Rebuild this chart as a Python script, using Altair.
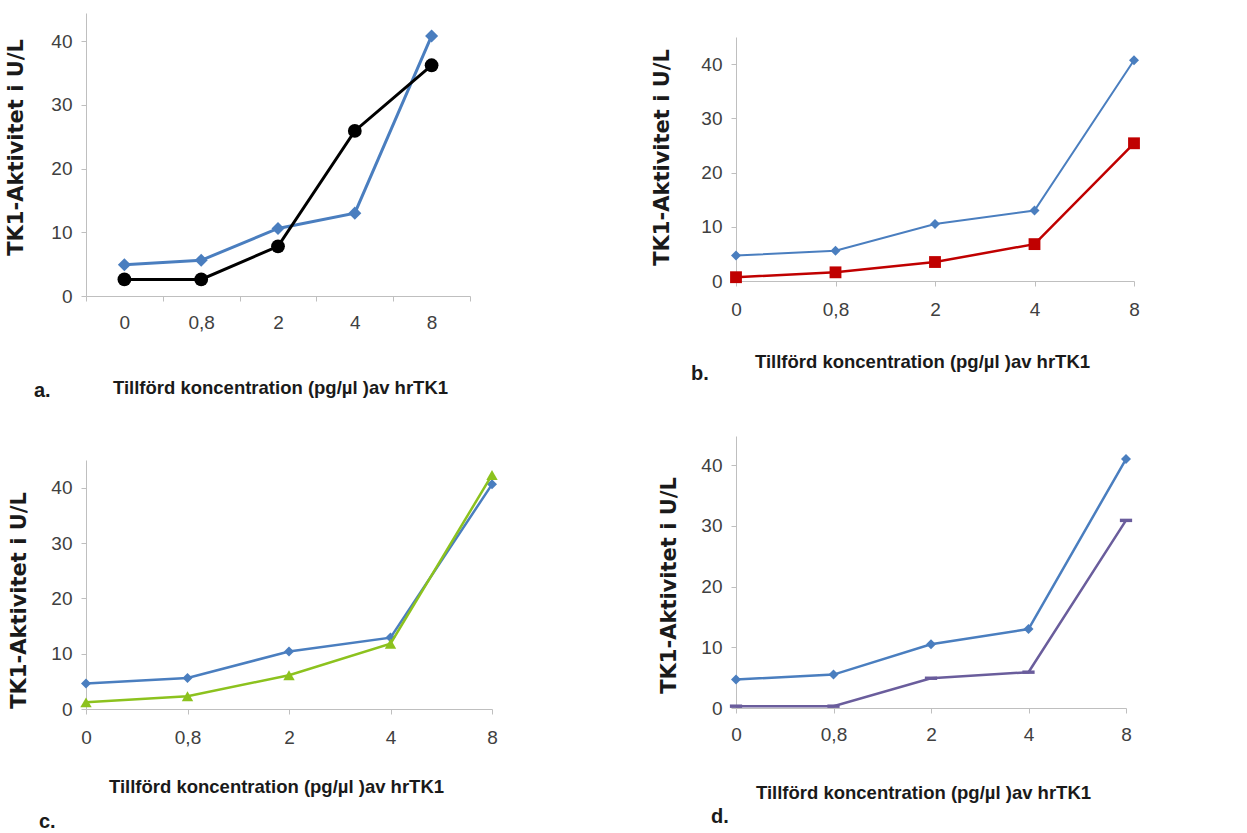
import altair as alt
import pandas as pd

# ---- data ----
conc = ["0", "0,8", "2", "4", "8"]

ref_a = [4.9, 5.6, 10.6, 13.0, 40.8]
black_a = [2.6, 2.6, 7.8, 25.9, 36.2]

ref_b = [4.7, 5.6, 10.5, 13.0, 40.7]
red_b = [0.7, 1.6, 3.5, 6.8, 25.4]

ref_c = [4.6, 5.6, 10.4, 12.9, 40.6]
green_c = [1.2, 2.3, 6.1, 11.8, 42.3]

ref_d = [4.7, 5.5, 10.5, 13.0, 41.0]
purple_d = [0.3, 0.3, 4.9, 5.9, 30.9]

y_ticks = [0, 10, 20, 30, 40]
x_title = "Tillförd koncentration (pg/µl )av hrTK1"
y_title = "TK1-Aktivitet i U/L"

BLUE = "#4a7ebf"
SANS = "'Liberation Sans', Arial, sans-serif"
AXIS_GRAY = "#bfbfbf"
LABEL_COLOR = "#404040"
DASH = "M-1,-0.28L1,-0.28L1,0.28L-1,0.28Z"


def panel(ref, other, ocolor, oshape, osize, owidth, rsize, rwidth,
          w, h, ymax, band, lpad_x, xtx, xty, ytx, yty, label, lx, ly):
    df = pd.DataFrame({
        "conc": conc + conc,
        "v": ref + other,
        "s": ["ref"] * len(ref) + ["other"] * len(other),
    })
    xaxis_kw = dict(
        title=x_title, labelAngle=0, labelFont=SANS, labelFontSize=19,
        labelColor=LABEL_COLOR, labelPadding=lpad_x, domainColor=AXIS_GRAY,
        tickColor=AXIS_GRAY, tickSize=5, grid=False,
        titleFont=SANS, titleFontSize=18.5, titleFontWeight="bold",
        titleColor="#1a1a1a", titleX=xtx, titleY=xty, titleAlign="center",
        titleBaseline="alphabetic",
    )
    if band:
        xenc = alt.X("conc:O", sort=conc,
                     scale=alt.Scale(type="band", paddingInner=0, paddingOuter=0),
                     bandPosition=0.5,
                     axis=alt.Axis(tickBand="extent", **xaxis_kw))
    else:
        xenc = alt.X("conc:O", sort=conc,
                     scale=alt.Scale(type="point", padding=0),
                     axis=alt.Axis(**xaxis_kw))

    yenc = alt.Y(
        "v:Q",
        scale=alt.Scale(domain=[0, ymax], nice=False, zero=True),
        axis=alt.Axis(
            title=y_title, values=y_ticks, labelFont=SANS, labelFontSize=19,
            labelColor=LABEL_COLOR, labelPadding=9, domainColor=AXIS_GRAY,
            tickColor=AXIS_GRAY, tickSize=5, grid=False,
            titleFont="DejaVu Sans", titleFontSize=21, titleFontWeight="bold",
            titleColor="#1a1a1a", titleX=ytx, titleY=yty, titleAlign="center",
            titleBaseline="middle", titleAngle=270,
        ),
    )
    base = alt.Chart(df).encode(x=xenc, y=yenc)
    r = base.transform_filter(alt.datum.s == "ref")
    o = base.transform_filter(alt.datum.s == "other")
    ref_line = r.mark_line(color=BLUE, strokeWidth=rwidth)
    ref_pts = r.mark_point(filled=True, shape="diamond", size=rsize,
                           color=BLUE, opacity=1)
    oth_line = o.mark_line(color=ocolor, strokeWidth=owidth)
    oth_pts = o.mark_point(filled=True, shape=oshape, size=osize,
                           color=ocolor, opacity=1)
    lab = alt.Chart(pd.DataFrame({"t": [label]})).mark_text(
        font=SANS, fontSize=20, fontWeight="bold", color="#1a1a1a",
        align="left", baseline="alphabetic").encode(
        text="t:N", x=alt.value(lx), y=alt.value(ly))
    return alt.layer(ref_line, ref_pts, oth_line, oth_pts, lab).properties(
        width=w, height=h)


pa = panel(ref_a, black_a, "#000000", "circle", 190, 3, 170, 3,
           384, 283, 44.4, True, 12, 194, 97, -70, 134, "a.", -52, 384)
pb = panel(ref_b, red_b, "#c00000", "square", 140, 2.5, 100, 2,
           398, 244, 45.0, False, 14, 186, 86, -74, 120, "b.", -45, 343)
pc = panel(ref_c, green_c, "#8cc21e", "triangle-up", 130, 2.5, 100, 2.5,
           406, 249, 45.0, False, 14, 190, 83, -67, 140, "c.", -47, 368)
pd_ = panel(ref_d, purple_d, "#6a5d9c", DASH, 150, 2.5, 100, 2.5,
            390, 272, 44.8, False, 12, 187, 90, -67, 149, "d.", -25, 387)

spacer = alt.Chart(pd.DataFrame({"t": [0]})).mark_point(opacity=0, size=4).encode(
    x=alt.value(2), y=alt.value(12)).properties(width=1, height=24)

left = alt.vconcat(pa, pc, spacing=164, bounds="flush")
right = alt.vconcat(spacer, alt.vconcat(pb, pd_, spacing=155, bounds="flush"),
                    spacing=0, bounds="flush")

chart = alt.hconcat(left, right, spacing=650, bounds="flush").properties(
    padding={"left": 5, "top": 13, "right": 5, "bottom": 5},
    background="white",
).configure_view(stroke=None)

chart.save("out.html", embed_options={"renderer": "svg", "actions": False})
